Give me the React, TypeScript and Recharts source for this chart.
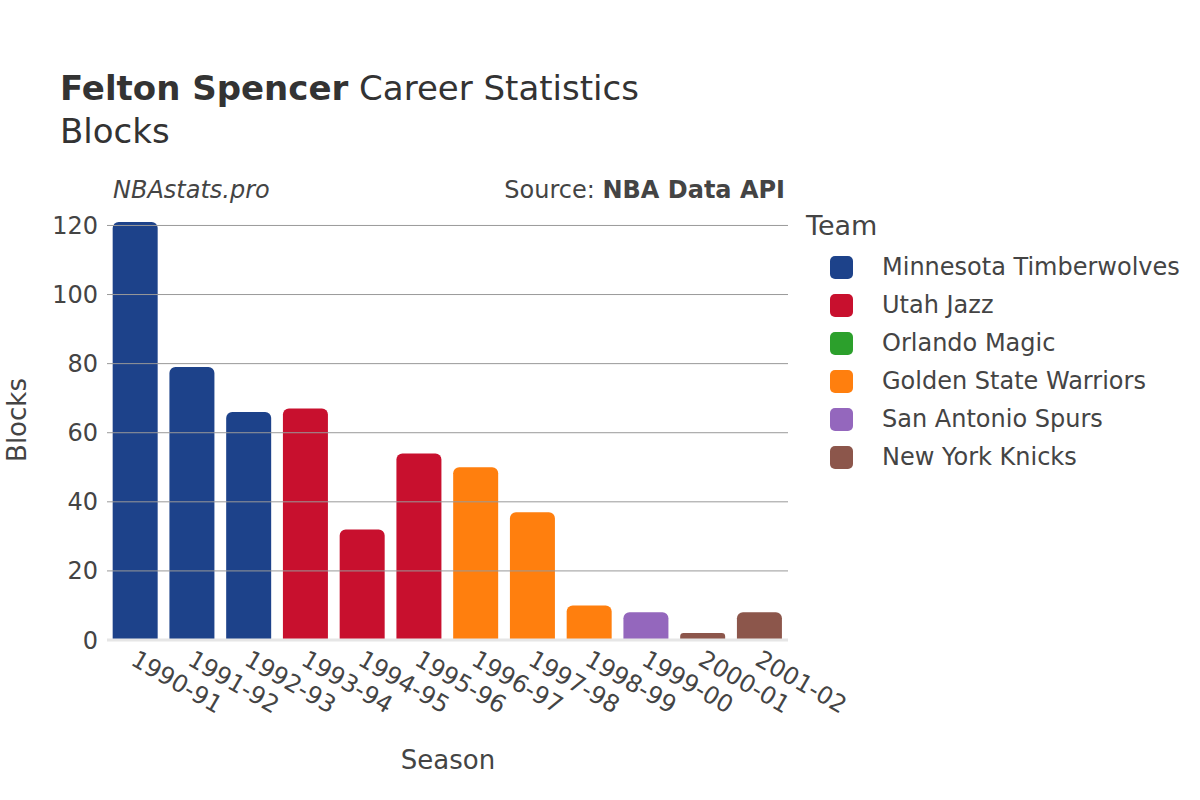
import React from "react";
import { BarChart, Bar, Cell, XAxis, YAxis, ReferenceLine } from "recharts";

const seasons = ["1990-91", "1991-92", "1992-93", "1993-94", "1994-95", "1995-96", "1996-97", "1997-98", "1998-99", "1999-00", "2000-01", "2001-02"];
const blocks = [121, 79, 66, 67, 32, 54, 50, 37, 10, 8, 2, 8];
const seasonTeam = [
  "Minnesota Timberwolves", "Minnesota Timberwolves", "Minnesota Timberwolves",
  "Utah Jazz", "Utah Jazz", "Utah Jazz",
  "Golden State Warriors", "Golden State Warriors", "Golden State Warriors",
  "San Antonio Spurs", "New York Knicks", "New York Knicks",
];
const teams = ["Minnesota Timberwolves", "Utah Jazz", "Orlando Magic", "Golden State Warriors", "San Antonio Spurs", "New York Knicks"];
const teamColors = ["#1d428a", "#c8102e", "#2ca02c", "#ff7f0e", "#9467bd", "#8c564b"];
const yTicks = [0, 20, 40, 60, 80, 100, 120];

const FONT = "'DejaVu Sans', sans-serif";
const TEXT = "#444";

const data = seasons.map((s, i) => ({ season: s, blocks: blocks[i], team: seasonTeam[i] }));
const colorOf = (team: string) => teamColors[teams.indexOf(team)];

function SeasonTick(props: any) {
  const { x, y, payload } = props;
  const tx = x - 6;
  const ty = y + 16;
  return (
    <text
      x={tx}
      y={ty}
      transform={`rotate(30 ${tx} ${ty})`}
      textAnchor="start"
      fill={TEXT}
      fontSize={24}
      fontFamily={FONT}
    >
      {payload.value}
    </text>
  );
}

function TeamLegend() {
  return (
    <div style={{ position: "absolute", left: 830, top: 210, fontFamily: FONT, color: TEXT }}>
      <div style={{ fontSize: 27, lineHeight: "32px", marginLeft: -24, marginBottom: 6 }}>Team</div>
      {teams.map((t, i) => (
        <div key={t} style={{ display: "flex", alignItems: "center", height: 38 }}>
          <span style={{ width: 23, height: 23, borderRadius: 5, background: teamColors[i], display: "inline-block" }} />
          <span style={{ fontSize: 24, marginLeft: 29 }}>{t}</span>
        </div>
      ))}
    </div>
  );
}

export default function App() {
  return (
    <div style={{ position: "absolute", left: 0, top: 0, width: 1200, height: 800, background: "#fff", fontFamily: FONT }}>
      <div style={{ position: "absolute", left: 60, top: 67, color: "#333", fontSize: 34, lineHeight: "43px" }}>
        <div><b>Felton Spencer</b> Career Statistics</div>
        <div>Blocks</div>
      </div>
      <div style={{ position: "absolute", left: 113, top: 176, fontSize: 24, fontStyle: "italic", color: TEXT }}>NBAstats.pro</div>
      <div style={{ position: "absolute", right: 1200 - 785, top: 176, fontSize: 24, color: TEXT }}>
        Source: <b>NBA Data API</b>
      </div>
      <div style={{ position: "absolute", left: 17, top: 420, transform: "translate(-50%, -50%) rotate(-90deg)", fontSize: 26, color: TEXT }}>Blocks</div>
      <div style={{ position: "absolute", left: 448, top: 760, transform: "translate(-50%, -50%)", fontSize: 26, color: TEXT }}>Season</div>
      <TeamLegend />
      <BarChart
        width={1200}
        height={800}
        data={data}
        margin={{ top: 222, right: 412, bottom: 100, left: 45 }}
        barCategoryGap="10%"
      >
        <XAxis
          dataKey="season"
          height={60}
          axisLine={false}
          tickLine={false}
          tick={<SeasonTick />}
          interval={0}
        />
        <YAxis
          width={62}
          domain={[0, 121]}
          ticks={yTicks}
          axisLine={false}
          tickLine={false}
          tickMargin={3}
          tick={{ fill: TEXT, fontSize: 24, fontFamily: FONT }}
        />
        {yTicks.filter((t) => t > 0).map((t) => (
          <ReferenceLine key={t} y={t} stroke="#999" strokeWidth={1} />
        ))}
        <ReferenceLine y={0} stroke="#e6e6e6" strokeWidth={3} />
        <Bar dataKey="blocks" radius={[6, 6, 0, 0]} isAnimationActive={false}>
          {data.map((d) => (
            <Cell key={d.season} fill={colorOf(d.team)} />
          ))}
        </Bar>
      </BarChart>
    </div>
  );
}
